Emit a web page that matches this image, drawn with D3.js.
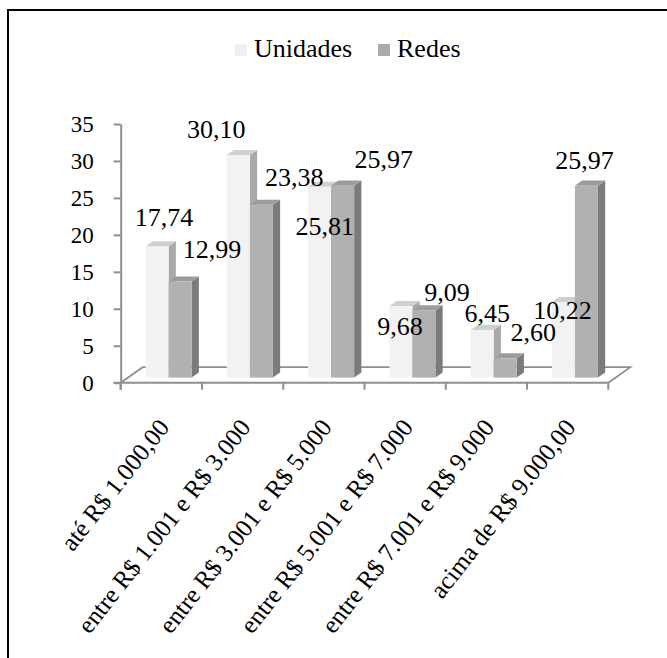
<!DOCTYPE html>
<html>
<head>
<meta charset="utf-8">
<script src="https://cdn.jsdelivr.net/npm/d3@7"></script>
<style>
  body { margin: 0; background: #fff; }
  svg { display: block; }
  text { font-family: "Liberation Serif", "Times New Roman", serif; fill: #000; }
</style>
</head>
<body>
<svg id="chart" width="667" height="658"></svg>
<script>
// Income brackets and the share (%) of units and networks in each
const categories = [
  "até R$ 1.000,00",
  "entre R$ 1.001 e R$ 3.000",
  "entre R$ 3.001 e R$ 5.000",
  "entre R$ 5.001 e R$ 7.000",
  "entre R$ 7.001 e R$ 9.000",
  "acima de R$ 9.000,00"
];
const seriesNames = ["Unidades", "Redes"];
const unidades = [17.74, 30.10, 25.81, 9.68, 6.45, 10.22];
const redes = [12.99, 23.38, 25.97, 9.09, 2.60, 25.97];
const yTicks = [0, 5, 10, 15, 20, 25, 30, 35];

// Layout
const FONT = "Liberation Serif";
const svg = d3.select("#chart");
const W = 667, H = 658;
const x0 = d3.scaleBand().domain(categories).range([120.7, 608.3]).padding(0);
const xs = d3.scaleBand().domain(seriesNames).range([-23, 23]).padding(0);
const y = d3.scaleLinear().domain([0, 35]).range([382.7, 124]);
const depth = { x: 22, y: -15.5 };       // floor depth vector
const barFront = 0.33, barBack = 0.66;    // bar position within the depth
const axisColor = "#8f8f8f";
const labelAngle = -52;

// Label nudges (px) relative to the top-front centre of each bar
const labelNudge = {
  Unidades: [[7, -20], [-22, -17], [5, 48], [-1, 29], [5, -8], [-1, 17]],
  Redes:    [[32, -24], [33, -19], [41, -18], [23, -9], [28, -17], [-2, -17]]
};

const faceColors = {
  Unidades: { front: "#f2f2f2", top: "#d0d0d0", side: "#a9a9a9" },
  Redes:    { front: "#b1b1b1", top: "#9c9c9c", side: "#7b7b7b" }
};

// Outer frame (left and top edges)
svg.append("line").attr("x1", 8).attr("y1", 9).attr("x2", 8).attr("y2", H)
  .attr("stroke", "#000").attr("stroke-width", 2);
svg.append("line").attr("x1", 7).attr("y1", 10).attr("x2", W).attr("y2", 10)
  .attr("stroke", "#000").attr("stroke-width", 2);

// Floor
const x0L = x0.range()[0], x0R = x0.range()[1], yBase = y(0);
svg.append("path")
  .attr("d", `M${x0L},${yBase}L${x0L + depth.x},${yBase + depth.y}L${x0R + depth.x},${yBase + depth.y}L${x0R},${yBase}`)
  .attr("fill", "none").attr("stroke", axisColor).attr("stroke-width", 1.8);

// Value axis
const yAxis = d3.axisLeft(y).tickValues(yTicks).tickSize(7).tickSizeOuter(0).tickPadding(20)
  .tickFormat(d3.format("d"));
const gy = svg.append("g").attr("transform", `translate(${x0L},0)`).call(yAxis)
  .attr("font-family", FONT);
gy.select(".domain").attr("stroke", axisColor).attr("stroke-width", 2);
gy.selectAll(".tick line").attr("stroke", axisColor).attr("stroke-width", 2);
gy.selectAll(".tick text").attr("font-size", 23).attr("font-family", FONT).attr("fill", "#000");
// axis line runs a little below the floor
svg.append("line").attr("x1", x0L).attr("x2", x0L).attr("y1", yBase).attr("y2", yBase + 7)
  .attr("stroke", axisColor).attr("stroke-width", 2);

// Category axis with ticks between brackets
const boundaries = categories.map(c => x0(c)).concat([x0R]);
svg.append("line").attr("x1", x0L - 7).attr("y1", yBase).attr("x2", x0R).attr("y2", yBase)
  .attr("stroke", axisColor).attr("stroke-width", 2);
svg.selectAll(".xtick").data(boundaries).join("line").attr("class", "xtick")
  .attr("x1", d => d).attr("x2", d => d).attr("y1", yBase).attr("y2", yBase + 7)
  .attr("stroke", axisColor).attr("stroke-width", 2);

svg.selectAll(".xlabel").data(categories).join("text").attr("class", "xlabel")
  .attr("transform", c => `translate(${x0(c) + x0.bandwidth() / 2 + 9},${yBase + 45}) rotate(${labelAngle})`)
  .attr("text-anchor", "end").attr("font-size", 25).attr("font-family", FONT).text(c => c);

// 3D columns
const valuesBySeries = { Unidades: unidades, Redes: redes };
const bars = [];
categories.forEach((c, i) => {
  seriesNames.forEach(s => {
    bars.push({ cat: c, i, series: s, value: valuesBySeries[s][i] });
  });
});

function barGeom(d) {
  const cx = x0(d.cat) + x0.bandwidth() / 2;
  const fx = cx + xs(d.series) + depth.x * barFront;
  const w = xs.bandwidth();
  const fyBase = y(0) + depth.y * barFront;
  const fyTop = y(d.value) + depth.y * barFront;
  const bdx = depth.x * (barBack - barFront), bdy = depth.y * (barBack - barFront);
  return { fx, w, fyBase, fyTop, bdx, bdy };
}

const barG = svg.append("g").selectAll("g.bar").data(bars).join("g").attr("class", "bar");
barG.append("path").attr("d", d => {
  const g = barGeom(d);
  return `M${g.fx + g.w},${g.fyTop}L${g.fx + g.w + g.bdx},${g.fyTop + g.bdy}L${g.fx + g.w + g.bdx},${g.fyBase + g.bdy}L${g.fx + g.w},${g.fyBase}Z`;
}).attr("fill", d => faceColors[d.series].side);
barG.append("path").attr("d", d => {
  const g = barGeom(d);
  return `M${g.fx},${g.fyTop}L${g.fx + g.bdx},${g.fyTop + g.bdy}L${g.fx + g.w + g.bdx},${g.fyTop + g.bdy}L${g.fx + g.w},${g.fyTop}Z`;
}).attr("fill", d => faceColors[d.series].top);
barG.append("rect")
  .attr("x", d => barGeom(d).fx).attr("y", d => barGeom(d).fyTop)
  .attr("width", d => barGeom(d).w).attr("height", d => barGeom(d).fyBase - barGeom(d).fyTop)
  .attr("fill", d => faceColors[d.series].front);

// Value labels
const fmt = v => d3.format(".2f")(v).replace(".", ",");
svg.selectAll(".vlabel").data(bars).join("text").attr("class", "vlabel")
  .attr("x", d => { const g = barGeom(d); return g.fx + g.w / 2 + labelNudge[d.series][d.i][0]; })
  .attr("y", d => barGeom(d).fyTop + labelNudge[d.series][d.i][1])
  .attr("text-anchor", "middle").attr("font-size", 26).attr("font-family", FONT)
  .text(d => fmt(d.value));

// Legend
const legend = svg.append("g");
const legendX = [235, 378];
seriesNames.forEach((s, k) => {
  legend.append("rect").attr("x", legendX[k]).attr("y", 44).attr("width", 12).attr("height", 12)
    .attr("fill", s === "Unidades" ? "#f0f0f0" : "#aaaaaa");
  legend.append("text").attr("x", legendX[k] + 19).attr("y", 57).attr("font-size", 26)
    .attr("font-family", FONT).text(s);
});
</script>
</body>
</html>
